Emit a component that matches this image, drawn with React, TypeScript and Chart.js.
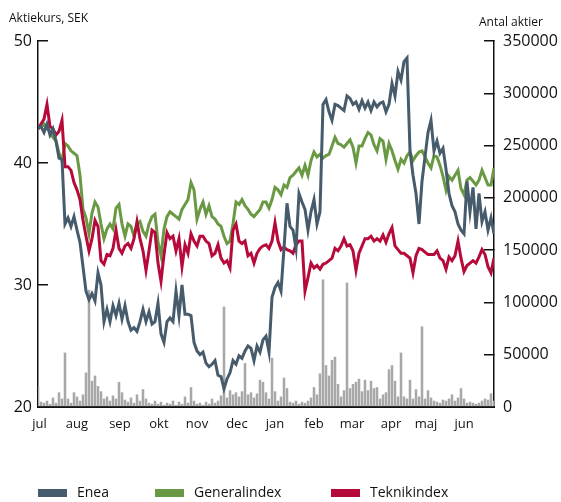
import { useEffect, useRef } from 'react';
import { Chart, registerables } from 'chart.js';

Chart.register(...registerables);

const FONT = '"Open Sans", "Noto Sans", sans-serif';

// Month tick labels and their positions (in trading-day index units)
const monthLabels = ['jul', 'aug', 'sep', 'okt', 'nov', 'dec', 'jan', 'feb', 'mar', 'apr', 'maj', 'jun'];
const monthTickPos = [0.5, 13, 27.3, 40.3, 53, 66.3, 79, 92, 104.7, 117.7, 129.3, 142];

const seriesNames = ['Enea', 'Generalindex', 'Teknikindex'];

// Share price, SEK
const enea = [
  42.9, 43.0, 42.5, 43.2, 42.3, 42.8, 41.8, 40.4, 40.3, 35.0,
  35.5, 34.8, 35.6, 34.5, 33.5, 31.5, 29.5, 28.8, 29.3, 28.7,
  31.0, 30.0, 27.0, 28.0, 27.0, 28.3, 27.5, 28.5, 27.2, 28.3,
  27.0, 26.3, 26.5, 26.2, 27.0, 28.0, 27.0, 27.8, 26.8, 27.0,
  28.5, 26.0, 25.3, 27.0, 27.3, 27.0, 29.5, 27.5, 30.0, 27.6,
  27.6, 27.5, 25.3, 24.6, 24.3, 24.5, 23.6, 23.3, 23.5, 23.8,
  22.6, 22.5, 21.5, 22.3, 22.8, 23.8, 23.5, 24.2, 24.0, 24.6,
  25.0, 24.8, 23.8, 25.0, 24.5, 25.5, 25.8, 24.5, 29.0, 29.8,
  30.2, 29.5, 33.0, 36.7, 34.8, 34.5, 33.0, 37.5, 36.8, 36.2,
  34.5, 36.0, 37.0, 35.0, 36.0, 44.8, 45.2, 44.2, 43.5, 44.8,
  44.7, 44.5, 44.3, 45.5, 45.3, 44.8, 45.0, 44.4, 45.1, 44.5,
  45.0, 44.3, 45.0, 44.6, 44.9, 45.0, 44.2, 44.8, 46.5, 45.5,
  47.5, 46.8, 48.3, 48.6, 41.0, 39.0, 37.5, 35.0, 38.5, 40.5,
  42.5, 43.5, 41.0, 41.8, 40.8, 41.2, 39.5, 37.5, 36.5, 36.0,
  35.0, 34.5, 34.2, 38.5, 36.0, 38.0, 34.6, 37.5, 35.2, 36.0,
  34.5, 35.5, 34.2,
];

const generalindex = [
  42.8, 43.0, 43.2, 42.8, 42.6, 42.1, 41.8, 40.8, 40.2, 41.6,
  41.4, 41.0, 40.8, 40.6, 39.0, 36.2, 35.5, 34.2, 35.9, 36.8,
  36.4, 35.0, 33.8, 34.6, 35.0, 34.6, 36.3, 36.6, 35.0, 34.0,
  35.0, 34.8, 34.0, 35.0, 35.2, 34.4, 34.0, 35.0, 35.6, 35.8,
  33.5, 32.4, 34.6, 35.6, 36.0, 35.8, 35.6, 35.4, 36.2, 36.6,
  37.0, 38.4, 37.8, 35.4, 36.2, 36.8, 35.8, 36.5, 35.6, 35.4,
  35.0, 34.8, 34.0, 33.4, 33.6, 35.0, 36.8, 36.6, 37.0, 36.5,
  36.2, 35.8, 35.6, 35.9, 36.2, 36.8, 36.8, 36.3, 37.0, 38.0,
  37.8, 37.4, 38.2, 38.0, 38.8, 39.0, 39.3, 39.6, 39.0, 39.8,
  39.0, 40.2, 40.9, 40.5, 40.7, 40.4, 40.6, 40.7, 41.4, 42.1,
  41.6, 41.5, 41.3, 41.6, 41.9, 41.3, 40.0, 41.4, 41.4, 42.0,
  42.5, 42.3, 41.5, 41.0, 42.0, 41.8, 40.3, 41.6, 41.0, 40.2,
  39.5, 40.3, 40.0, 40.6, 40.9, 40.2, 40.6, 40.9, 41.0, 40.5,
  40.0, 39.6, 40.6, 40.5, 39.8, 38.9, 37.8, 38.9, 38.6, 39.0,
  39.4, 37.9, 37.4, 38.6, 38.8, 38.5, 38.2, 38.6, 39.4, 38.8,
  38.2, 38.2, 39.6,
];

const teknikindex = [
  42.8, 43.2, 43.6, 44.8, 43.0, 42.8, 42.3, 42.6, 43.5, 39.7,
  39.7, 39.4, 38.4, 37.8, 37.0, 35.3, 34.0, 32.8, 33.8, 35.3,
  34.8, 32.0, 31.7, 32.5, 32.4, 33.0, 34.5, 33.0, 32.6, 33.2,
  33.4, 33.0, 33.8, 35.2, 33.8, 32.8, 31.2, 32.8, 34.5, 34.3,
  31.8, 30.3, 32.5, 34.3, 33.8, 34.0, 32.8, 33.8, 31.5, 33.3,
  32.6, 34.2, 33.6, 33.2, 34.0, 34.0, 33.6, 33.4, 32.4, 32.6,
  33.3, 32.2, 31.8, 32.0, 31.4, 34.5, 35.0, 33.6, 33.4, 33.6,
  32.4, 32.6, 31.8, 32.6, 33.0, 33.2, 33.3, 33.0, 33.6, 35.1,
  33.6, 32.9, 33.1, 32.9, 32.8, 32.6, 33.3, 33.6, 33.6, 29.5,
  30.6, 31.8, 31.4, 31.6, 31.3, 31.7, 31.8, 32.0, 32.2, 33.0,
  32.8, 33.2, 33.8, 33.2, 33.3, 32.8, 31.2, 32.6, 33.2, 33.8,
  33.8, 34.0, 33.6, 33.8, 33.6, 34.1, 33.5, 34.2, 34.7, 33.2,
  32.9, 32.6, 32.6, 32.4, 32.2, 31.0, 32.4, 33.0, 32.9, 32.7,
  32.5, 32.5, 32.5, 32.8, 32.2, 32.0, 31.3, 32.3, 32.0, 32.4,
  33.6, 32.2, 31.1, 31.6, 31.8, 32.0, 31.8, 32.3, 32.9, 32.5,
  31.5, 31.0, 32.2,
];

// Traded shares (Antal aktier)
const volume = [
  20000, 5000, 4000, 6000, 3000, 9000, 4000, 14000, 8000, 52000,
  8000, 4000, 14000, 10000, 6000, 12000, 33000, 112000, 25000, 30000,
  20000, 15000, 8000, 10000, 6000, 11000, 8000, 24000, 14000, 7000,
  5000, 9000, 4000, 12000, 6000, 17000, 8000, 4000, 3000, 6000,
  3000, 5000, 2000, 4000, 3000, 6000, 2000, 5000, 3000, 10000,
  4000, 19000, 6000, 3000, 4000, 2000, 5000, 3000, 8000, 4000,
  6000, 11000, 96000, 9000, 16000, 12000, 14000, 10000, 15000, 42000,
  12000, 14000, 9000, 13000, 26000, 24000, 14000, 8000, 47000, 15000,
  6000, 10000, 28000, 18000, 5000, 4000, 6000, 3000, 5000, 4000,
  6000, 9000, 19000, 12000, 32000, 122000, 40000, 30000, 45000, 48000,
  22000, 10000, 16000, 119000, 18000, 22000, 24000, 27000, 15000, 26000,
  16000, 25000, 18000, 19000, 8000, 12000, 14000, 36000, 40000, 25000,
  10000, 52000, 10000, 8000, 26000, 8000, 17000, 10000, 77000, 8000,
  16000, 9000, 6000, 5000, 4000, 7000, 6000, 8000, 12000, 6000,
  9000, 18000, 8000, 4000, 5000, 4000, 3000, 4000, 6000, 8000,
  7000, 13000, 6000,
];

const leftTitle = 'Aktiekurs, SEK';
const rightTitle = 'Antal aktier';

// Styles
const seriesColors = ['#465b6b', '#6a9944', '#b50a3a'];
const BAR_COLOR = '#a8a8a8';
const TEXT = '#111111';
const LEGEND_X = [38, 155, 331];

const decorPlugin = {
  id: 'decor',
  afterDraw(chart: any) {
    const c = chart.ctx as CanvasRenderingContext2D;
    c.save();
    c.fillStyle = TEXT;
    c.textBaseline = 'alphabetic';
    c.textAlign = 'left';
    c.font = `12px ${FONT}`;
    c.fillText(leftTitle, 9, 22);
    c.fillText(rightTitle, 479, 26);
    c.font = `14px ${FONT}`;
    c.textBaseline = 'middle';
    seriesNames.forEach((name, k) => {
      c.fillStyle = seriesColors[k];
      c.fillRect(LEGEND_X[k], 489, 29, 8);
      c.fillStyle = TEXT;
      c.fillText(name, LEGEND_X[k] + 39, 493);
    });
    c.restore();
  },
};

export default function App() {
  const ref = useRef<HTMLCanvasElement | null>(null);

  useEffect(() => {
    const canvas = ref.current;
    if (!canvas) return;
    Chart.defaults.font.family = FONT;
    const pts = (arr: number[]) => arr.map((y, i) => ({ x: i, y }));
    const lines = [enea, generalindex, teknikindex];
    const lineOrder = [1, 3, 2];

    const chart = new Chart(canvas, {
      type: 'line',
      data: {
        datasets: [
          {
            type: 'bar',
            label: rightTitle,
            data: pts(volume),
            yAxisID: 'yR',
            xAxisID: 'x',
            backgroundColor: BAR_COLOR,
            borderWidth: 0,
            barPercentage: 0.85,
            categoryPercentage: 1,
            order: 10,
          } as any,
          ...lines.map((arr, k) => ({
            type: 'line',
            label: seriesNames[k],
            data: pts(arr),
            yAxisID: 'yL',
            xAxisID: 'x',
            borderColor: seriesColors[k],
            backgroundColor: seriesColors[k],
            borderWidth: 3,
            pointRadius: 0,
            tension: 0,
            fill: false,
            order: lineOrder[k],
          } as any)),
        ],
      },
      options: {
        responsive: false,
        animation: false,
        devicePixelRatio: 1,
        layout: { padding: { top: 41, left: 0, right: 0, bottom: 0 } },
        plugins: {
          legend: { display: false },
          tooltip: { enabled: false },
        },
        scales: {
          x: {
            type: 'linear',
            offset: false,
            min: 0,
            max: 152,
            afterFit: (s: any) => { s.height = 95; },
            afterBuildTicks: (s: any) => { s.ticks = monthTickPos.map((v) => ({ value: v })); },
            ticks: {
              autoSkip: false,
              maxRotation: 0,
              padding: 9,
              color: TEXT,
              font: { size: 13, family: FONT },
              callback: (_v: any, i: number) => monthLabels[i],
            },
            grid: { display: true, offset: false, drawOnChartArea: false, drawTicks: false },
            border: { display: true, color: TEXT, width: 2 },
          },
          yL: {
            type: 'linear',
            position: 'left',
            min: 20,
            max: 50,
            afterFit: (s: any) => { s.width = 38; },
            ticks: {
              stepSize: 10,
              padding: 16,
              color: TEXT,
              font: { size: 16, family: FONT },
            },
            grid: { drawOnChartArea: false, tickLength: -10, color: TEXT, lineWidth: 1.5 },
            border: { display: true, color: TEXT, width: 1.5 },
          },
          yR: {
            type: 'linear',
            position: 'right',
            min: 0,
            max: 350000,
            afterFit: (s: any) => { s.width = 67; },
            ticks: {
              stepSize: 50000,
              padding: 19,
              color: TEXT,
              font: { size: 16, family: FONT },
              callback: (v: any) => String(v),
            },
            grid: { drawOnChartArea: false, tickLength: -10, color: TEXT, lineWidth: 1.5 },
            border: { display: true, color: TEXT, width: 1.5 },
          },
        },
      } as any,
      plugins: [decorPlugin],
    });

    return () => chart.destroy();
  }, []);

  return (
    <div style={{ position: 'fixed', left: 0, top: 0, width: 561, height: 502, background: '#fff' }}>
      <canvas ref={ref} width={561} height={502} style={{ display: 'block', width: 561, height: 502 }} />
    </div>
  );
}
